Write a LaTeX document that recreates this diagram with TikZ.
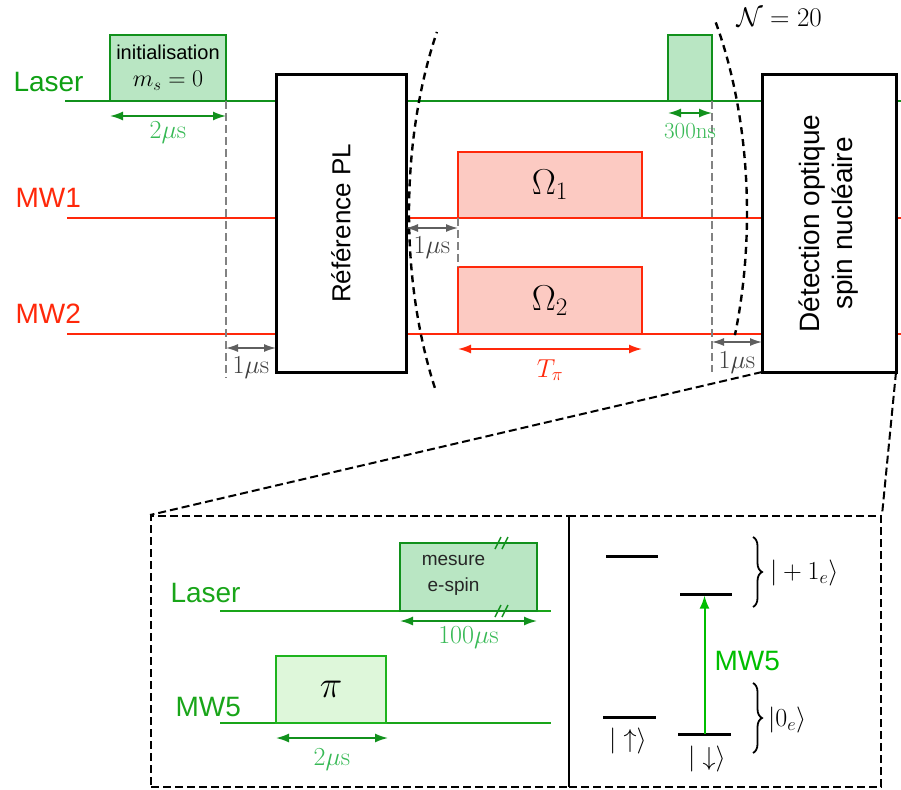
\RequirePackage{fix-cm}
\documentclass[tikz,border=0pt]{standalone}
\usepackage{fontspec}
\setsansfont{Liberation Sans}
\usetikzlibrary{arrows.meta,calc,decorations.pathreplacing}
\definecolor{dkgreen}{RGB}{17,145,28}
\definecolor{initfill}{RGB}{185,230,195}
\definecolor{dimgreen}{RGB}{55,185,85}
\definecolor{labgreen}{RGB}{15,160,20}
\definecolor{ingreen}{RGB}{25,165,25}
\definecolor{mwred}{RGB}{255,40,10}
\definecolor{redfill}{RGB}{252,202,194}
\definecolor{pigreen}{RGB}{30,180,30}
\definecolor{pifill}{RGB}{222,247,218}
\definecolor{arrgreen}{RGB}{0,190,0}
\definecolor{dgray}{RGB}{95,95,95}
\definecolor{lgray}{RGB}{130,130,130}
\newcommand\fsz[2]{\fontsize{#1}{#2}\selectfont}
\begin{document}
\begin{tikzpicture}[x=1pt,y=-1pt,
  sig/.style={line width=2.5pt},
  pbox/.style={draw,line width=2.8pt,inner sep=0pt,outer sep=0pt},
  bbox/.style={draw=black,fill=white,line width=3pt,inner sep=0pt,outer sep=0pt},
  ddim/.style={{Latex[length=13pt,width=9pt]}-{Latex[length=13pt,width=9pt]},line width=1.6pt},
  gdim/.style={{Latex[length=12pt,width=8pt]}-{Latex[length=12pt,width=8pt]},line width=1.4pt,draw=dgray},
  gdash/.style={draw=lgray,line width=1.4pt,dash pattern=on 8pt off 4pt},
  edash/.style={draw=black,line width=2.4pt,dash pattern=on 7pt off 5pt},
  zdash/.style={draw=black,line width=2pt,dash pattern=on 8pt off 4pt},
  sflab/.style={font=\sffamily\fsz{28}{33}},
  dimlab/.style={font=\fsz{26}{30},anchor=base},
  lvl/.style={fill=black,inner sep=0pt,outer sep=0pt,minimum height=3pt},
  bracepath/.style={draw=black,line width=1.8pt,decorate,decoration={brace,amplitude=9pt}}
]
\useasboundingbox (0,0) rectangle (901,789);

% ---------- signal lines ----------
\draw[sig,draw=dkgreen] (65,101) -- (901,101);
\draw[sig,draw=mwred] (67,218) -- (901,218);
\draw[sig,draw=mwred] (67,334) -- (901,334);
\node[sflab,text=labgreen,anchor=base west] (llaser) at (10,92) {Laser};
\node[sflab,text=mwred,anchor=base west] (lmw1) at (12,207) {MW1};
\node[sflab,text=mwred,anchor=base west] (lmw2) at (12,323) {MW2};

% ---------- pulses and boxes ----------
\node[pbox,draw=dkgreen,fill=initfill,anchor=south west,minimum width=116pt,minimum height=66pt,
      align=center,font=\sffamily\fsz{20}{27}] (init) at (110,101)
      {initialisation\\{\fsz{24}{27}$m_s=0$}};
\node[bbox,anchor=north west,minimum width=130pt,minimum height=297pt] (ref) at (276,75) {};
\node[rotate=90,font=\sffamily\fsz{26}{30}] (reflab) at (ref.center) {Référence PL};

\node[pbox,draw=mwred,fill=redfill,anchor=south west,minimum width=184pt,minimum height=66pt,
      font=\fsz{36}{40}] (om1) at (458,218) {$\Omega_1$};
\node[pbox,draw=mwred,fill=redfill,anchor=south west,minimum width=184pt,minimum height=67pt,
      font=\fsz{36}{40}] (om2) at (458,334) {$\Omega_2$};

\node[pbox,draw=dkgreen,fill=initfill,anchor=south west,minimum width=44pt,minimum height=66pt] (small) at (668,101) {};

\node[bbox,anchor=north west,minimum width=134pt,minimum height=297pt] (det) at (762,75) {};
\node[rotate=90,align=center,font=\sffamily\fsz{28}{33}] (detlab) at (det.center) {Détection optique\\spin nucléaire};

% ---------- repetition bracket ----------
\draw[edash] plot[domain=147.9:213.4,samples=60] ({578+169*cos(\x)},{213+329*sin(\x)});
\draw[edash] plot[domain=-35.4:21.8,samples=60] ({578+169*cos(\x)},{213+329*sin(\x)});
\node[font=\fsz{27}{30},anchor=base west] (nrep) at (733,27) {$\mathcal{N}=20$};

% ---------- guides ----------
\draw[gdash] (init.south east) -- ++(0,277);
\draw[gdash] (om1.south west) -- (om2.north west);
\draw[gdash] (small.south east) -- ++(0,271);

% ---------- dimensions ----------
\draw[ddim,draw=dkgreen] ([yshift=-15pt]init.south west) -- ([yshift=-15pt]init.south east)
  node[dimlab,text=dimgreen,pos=.5,yshift=-22pt] {$2\mu\mathrm{s}$};
\coordinate (c1) at ($(ref.south west)+(0,-24)$);
\draw[gdim] (c1 -| init.south east) -- (c1)
  node[dimlab,text=black!75,pos=.5,yshift=-25pt] {$1\mu\mathrm{s}$};
\coordinate (c2) at ($(om1.south west)+(0,10)$);
\draw[gdim] (c2 -| ref.east) -- (c2)
  node[dimlab,text=black!75,pos=.5,yshift=-25pt] {$1\mu\mathrm{s}$};
\draw[ddim,draw=mwred] ([yshift=-15pt]om2.south west) -- ([yshift=-15pt]om2.south east)
  node[dimlab,text=mwred,pos=.5,yshift=-28pt] {$T_\pi$};
\draw[ddim,draw=dkgreen] ([yshift=-12pt]small.south west) -- ([yshift=-12pt]small.south east)
  node[dimlab,font=\fsz{23}{27},text=dimgreen,pos=.5,yshift=-25pt] {$300\mathrm{ns}$};
\coordinate (c3) at ($(det.south west)+(0,-30)$);
\draw[gdim] (c3 -| small.south east) -- (c3)
  node[dimlab,text=black!75,pos=.5,yshift=-26pt] {$1\mu\mathrm{s}$};

% ---------- inset ----------
\node[draw=black,line width=2pt,dash pattern=on 8pt off 4pt,anchor=north west,
      minimum width=418pt,minimum height=271pt,inner sep=0pt] (panL) at (150,515) {};
\node[draw=black,line width=2pt,dash pattern=on 8pt off 4pt,anchor=north west,
      minimum width=312pt,minimum height=271pt,inner sep=0pt] (panR) at (568,515) {};
\draw[zdash] (det.south west) -- (panL.north west);
\draw[zdash] (det.south east) -- (panR.north east);

% left panel
\draw[sig,draw=ingreen] (220,611) -- (551,611);
\draw[sig,draw=ingreen] (220,723) -- (551,723);
\node[sflab,text=ingreen,anchor=base west] (ilaser) at (167,602) {Laser};
\node[sflab,text=ingreen,anchor=base west] (imw5) at (172,716) {MW5};
\node[pbox,draw=dkgreen,fill=initfill,anchor=south west,minimum width=137pt,minimum height=68pt] (meas) at (400,611) {};
\node[align=center,font=\sffamily\fsz{19}{26},text=black!85] (meastxt) at ($(meas.center)+(-15,-2)$) {mesure\\e-spin};
\draw[dkgreen,line width=1.5pt] (495,549) -- (501,537) (502,549) -- (508,537);
\draw[dkgreen,line width=1.5pt] (495,617) -- (501,605) (502,617) -- (508,605);
\draw[ddim,draw=dkgreen] ([yshift=-10pt]meas.south west) -- ([yshift=-10pt]meas.south east)
  node[dimlab,text=dimgreen,pos=.5,yshift=-22pt] {$100\mu\mathrm{s}$};
\node[pbox,draw=pigreen,fill=pifill,anchor=south west,minimum width=110pt,minimum height=67pt,
      font=\fsz{38}{40}] (pibox) at (276,723) {$\pi$};
\draw[ddim,draw=dkgreen] ([yshift=-15pt]pibox.south west) -- ([yshift=-15pt,xshift=2pt]pibox.south east)
  node[dimlab,text=dimgreen,pos=.5,yshift=-27pt] {$2\mu\mathrm{s}$};

% right panel
\node[lvl,minimum width=52pt] (l1) at (632,556) {};
\node[lvl,minimum width=52pt] (l2) at (706,594) {};
\node[lvl,minimum width=53pt] (l3) at (629.5,717) {};
\node[lvl,minimum width=53pt] (l4) at (704.5,734) {};
\node[font=\fsz{26}{30}] (kup) at (628,741) {$|\uparrow\rangle$};
\node[font=\fsz{26}{30}] (kdn) at (707,759) {$|\downarrow\rangle$};
\draw[{Latex[length=13pt,width=10pt]}-,draw=arrgreen,line width=2pt] (l2.south -| l4.center) -- (l4.center);
\node[sflab,text=arrgreen,anchor=base west] (mwlab) at (711,670) {MW5};
\coordinate (b1t) at (753,537);
\coordinate (b1b) at (753,607);
\draw[bracepath] (b1t) -- (b1b);
\node[font=\fsz{26}{30},anchor=west,inner sep=0pt] (k1) at (770,573) {$|+1_e\rangle$};
\coordinate (b2t) at (753,683);
\coordinate (b2b) at (753,753);
\draw[bracepath] (b2t) -- (b2b);
\node[font=\fsz{26}{30},anchor=west,inner sep=0pt] (k0) at (768,720) {$|0_e\rangle$};
\end{tikzpicture}
\end{document}
